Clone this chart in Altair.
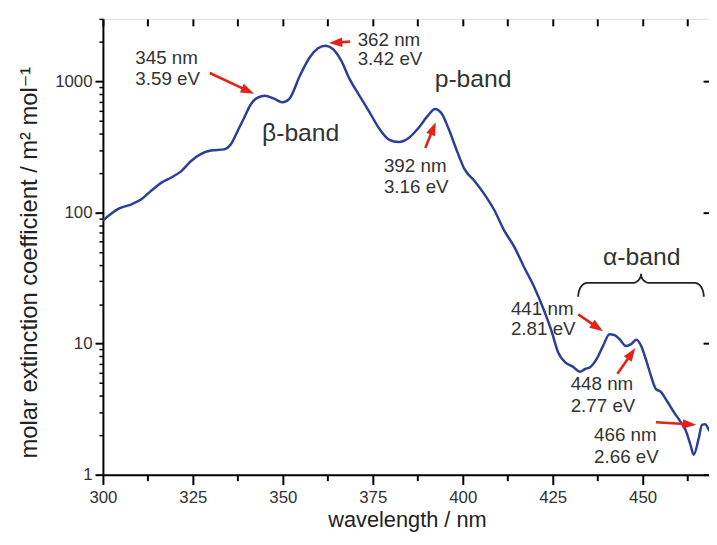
import math
import altair as alt
import pandas as pd

# ---------------- data ----------------
wavelength = [300, 304.4, 308.1, 310.8, 313.5, 316.3, 319, 321.8, 324.5, 327.3, 330, 333.7, 335.5,
              337.4, 339.2, 341, 342.9, 345.1, 347.4, 349.9, 351.8, 354.8, 357.5, 359.8, 361.9, 363.9,
              366.2, 368.5, 371.2, 374, 376.7, 379.5, 382.2, 385, 387.7, 390.5, 392.3, 394.1, 396,
              398.5, 400.5, 403.3, 406, 408.8, 411.5, 414.3, 417, 419.8, 422.5, 424.8, 426.5, 428.5,
              430.5, 432.6, 434, 435.4, 437.2, 439, 440.8, 442.2, 443.6, 445.4, 446.8, 448.2, 449.6,
              450.9, 452.3, 453.7, 455, 456.9, 458.7, 460.5, 461.9, 463.3, 464.2, 465.6, 466.5, 467.4,
              468.4, 469.5]
extinction = [87, 107, 116, 127, 147, 169, 185, 207, 247, 280, 297, 303, 330,
              416, 524, 661, 750, 777, 742, 692, 735, 1114, 1530, 1790, 1875, 1770,
              1445, 1050, 787, 589, 441, 360, 345, 370, 441, 556, 617, 571, 441,
              290, 214, 174, 138, 104, 73, 55, 38.6, 27.3, 18.2, 12.2, 8.6, 7.2,
              6.7, 6.1, 6.4, 6.6, 7.6, 9.6, 11.8, 11.6, 10.8, 9.6, 9.9, 10.7, 9.6,
              7.6, 5.7, 4.5, 4.3, 3.6, 3.0, 2.54, 2.2, 1.69, 1.42, 1.9, 2.4, 2.43,
              2.2, 2.0]

x_major = [300, 325, 350, 375, 400, 425, 450]
x_minor = [312.5, 337.5, 362.5, 387.5, 412.5, 437.5, 462.5]
x_top = [300, 312.5, 325, 337.5, 350, 362.5, 375, 387.5, 400, 412.5, 425, 437.5, 450, 462.5]
y_major = [1, 10, 100, 1000]
y_minor = [2, 3, 4, 5, 6, 7, 8, 9, 20, 30, 40, 50, 60, 70, 80, 90,
           200, 300, 400, 500, 600, 700, 800, 900, 2000, 3000]

peak_text = ["345 nm", "3.59 eV", "362 nm", "3.42 eV", "392 nm", "3.16 eV",
             "441 nm", "2.81 eV", "448 nm", "2.77 eV", "466 nm", "2.66 eV"]
peak_x = [309.0, 309.0, 370.8, 370.8, 378.1, 378.1, 413.4, 413.4, 430.0, 430.0, 436.5, 436.5]
peak_y = [1356, 941, 1876, 1325, 205, 142, 16.4, 11.6, 4.40, 3.03, 1.80, 1.23]

band_text = ["\u03b2-band", "p-band", "\u03b1-band"]
band_x = [344.2, 392.2, 439.0]
band_y = [349, 909, 39.8]

arrow_x0 = [329.7, 368.7, 389.6, 432.1, 443.0, 453.7]
arrow_y0 = [1159, 2011, 311, 16.7, 5.89, 2.51]
arrow_x1 = [342.0, 362.8, 392.5, 439.0, 448.0, 464.9]
arrow_y1 = [805, 1963, 489, 12.4, 9.25, 2.40]

brace_x = [432.1, 467.0]          # ends of the alpha-band brace (nm)
brace_levels = [22.8, 29.0, 34.0]  # end, flat, tip levels

# ---------------- geometry of the scales ----------------
W, H = 615, 461
XMIN, XMAX = 300, 469
YMIN, YMAX = 1, 3000
LY0, LY1 = math.log10(YMIN), math.log10(YMAX)


def to_px(x, y):
    return ((x - XMIN) / (XMAX - XMIN) * W,
            H - (math.log10(y) - LY0) / (LY1 - LY0) * H)


def to_data(px, py):
    return (XMIN + px / W * (XMAX - XMIN),
            10 ** (LY0 + (H - py) / H * (LY1 - LY0)))


FONT = "Liberation Sans, Arial, DejaVu Sans"
RED = "#e2231a"
BLUE = "#2c3e98"
TXT = "#333333"

xs = alt.Scale(domain=[XMIN, XMAX], nice=False, zero=False)
ys = alt.Scale(type="log", domain=[YMIN, YMAX], nice=False)

curve = pd.DataFrame({"wl": wavelength, "val": extinction})

line = alt.Chart(curve).mark_line(color=BLUE, strokeWidth=2.5, interpolate="monotone", clip=True).encode(
    x=alt.X("wl:Q", scale=xs, axis=alt.Axis(
        orient="bottom", values=x_major, format="d", title="wavelength / nm",
        grid=False, tickSize=10, tickWidth=2, tickColor="black", domainColor="black", domainWidth=2,
        labelFontSize=17, labelColor=TXT, labelPadding=5, labelFont=FONT, labelFlush=False,
        titleFontSize=22, titleFontWeight="normal", titleColor="#222", titleFont=FONT,
        titleY=52, titleBaseline="alphabetic")),
    y=alt.Y("val:Q", scale=ys, axis=alt.Axis(
        orient="left", values=y_major, format="d",
        title="molar extinction coefficient / m\u00b2 mol\u207b\u00b9",
        grid=False, tickSize=8, tickWidth=2, tickColor="black", domainColor="black", domainWidth=2,
        labelFontSize=17, labelColor=TXT, labelPadding=3, labelFont=FONT, labelFlush=False,
        titleFontSize=24, titleFontWeight="normal", titleColor="#222", titleFont=FONT,
        titleX=-67, titleY=246, titleAngle=270, titleAlign="center", titleBaseline="alphabetic")),
)

minor_axes = alt.Chart(curve).mark_line(opacity=0).encode(
    x=alt.X("wl:Q", scale=xs, axis=alt.Axis(
        orient="bottom", values=x_minor, labels=False, domain=False, grid=False, title=None,
        tickSize=6, tickWidth=2, tickColor="black")),
    y=alt.Y("val:Q", scale=ys, axis=alt.Axis(
        orient="left", values=y_minor, labels=False, domain=False, grid=False, title=None,
        tickSize=4, tickWidth=1.5, tickColor="black")),
)

frame_axes = alt.Chart(curve).mark_line(opacity=0).encode(
    x=alt.X("wl:Q", scale=xs, axis=alt.Axis(
        orient="top", values=x_top, labels=False, domain=False, grid=False, title=None,
        offset=-7, tickSize=7, tickWidth=2, tickColor="black")),
    y=alt.Y("val:Q", scale=ys, axis=alt.Axis(
        orient="right", values=y_major, labels=False, domain=False, grid=False, title=None,
        offset=-8, tickSize=8, tickWidth=2, tickColor="black")),
)

peaks = pd.DataFrame({"t": peak_text, "x": peak_x, "y": peak_y})
peak_layer = alt.Chart(peaks).mark_text(
    align="left", baseline="alphabetic", fontSize=19, font=FONT, color=TXT
).encode(x=alt.X("x:Q", scale=xs, axis=None), y=alt.Y("y:Q", scale=ys, axis=None), text="t:N")

bands = pd.DataFrame({"t": band_text, "x": band_x, "y": band_y})
band_layer = alt.Chart(bands).mark_text(
    align="left", baseline="alphabetic", fontSize=25, font=FONT, color=TXT
).encode(x=alt.X("x:Q", scale=xs, axis=None), y=alt.Y("y:Q", scale=ys, axis=None), text="t:N")

# arrows: shaft + head, computed from data through the scale geometry
shaft_rows, head_rows = [], []
for x0, y0, x1, y1 in zip(arrow_x0, arrow_y0, arrow_x1, arrow_y1):
    p0x, p0y = to_px(x0, y0)
    p1x, p1y = to_px(x1, y1)
    dx, dy = p1x - p0x, p1y - p0y
    L = math.hypot(dx, dy)
    ex, ey = p1x - dx / L * 8, p1y - dy / L * 8
    sx, sy = to_data(ex, ey)
    shaft_rows.append({"x": x0, "y": y0, "x2": sx, "y2": sy})
    ang = math.degrees(math.atan2(dx, -dy)) % 360
    head_rows.append({"x": x1, "y": y1, "a": ang})

shafts = alt.Chart(pd.DataFrame(shaft_rows)).mark_rule(color=RED, strokeWidth=2.6).encode(
    x=alt.X("x:Q", scale=xs, axis=None), y=alt.Y("y:Q", scale=ys, axis=None), x2="x2:Q", y2="y2:Q")
heads = alt.Chart(pd.DataFrame(head_rows)).mark_point(
    shape="M0,0L-0.62,1.75L0.62,1.75Z", filled=True, color=RED, opacity=1, size=240
).encode(x=alt.X("x:Q", scale=xs, axis=None), y=alt.Y("y:Q", scale=ys, axis=None),
         angle=alt.Angle("a:Q", scale=None))

# curly brace over the alpha band
bx0, ye = to_px(brace_x[0], brace_levels[0])
bx1, _ = to_px(brace_x[1], brace_levels[0])
_, yf = to_px(brace_x[0], brace_levels[1])
_, yt = to_px(brace_x[0], brace_levels[2])
xm = (bx0 + bx1) / 2
r = 9
steps = 10
pts = []
for i in range(steps + 1):
    t = math.radians(90 * i / steps)
    pts.append((bx0 + r * (1 - math.cos(t)), ye - (ye - yf) * math.sin(t)))
for i in range(steps + 1):
    t = math.radians(90 * i / steps)
    pts.append((xm - r + r * math.sin(t), yt + (yf - yt) * math.cos(t)))
for i in range(steps + 1):
    t = math.radians(90 * i / steps)
    pts.append((xm + r - r * math.cos(t), yt + (yf - yt) * math.sin(t)))
for i in range(steps + 1):
    t = math.radians(90 * i / steps)
    pts.append((bx1 - r + r * math.sin(t), yf + (ye - yf) * (1 - math.cos(t))))
brace_rows = []
for k, (px_, py_) in enumerate(pts):
    dxv, dyv = to_data(px_, py_)
    brace_rows.append({"x": dxv, "y": dyv, "o": k})
brace = alt.Chart(pd.DataFrame(brace_rows)).mark_line(color="#222", strokeWidth=1.8).encode(
    x=alt.X("x:Q", scale=xs, axis=None), y=alt.Y("y:Q", scale=ys, axis=None), order="o:Q")

chart = alt.layer(
    minor_axes, frame_axes, line, brace, shafts, heads, peak_layer, band_layer
).resolve_axis(x="independent", y="independent").properties(
    width=W, height=H,
    autosize=alt.AutoSizeParams(type="none"),
    padding={"left": 96, "top": 8, "right": -2, "bottom": 58},
).configure_view(stroke="black", strokeWidth=2).configure(font=FONT)

chart.save("out.html", embed_options={"renderer": "svg", "actions": False})
